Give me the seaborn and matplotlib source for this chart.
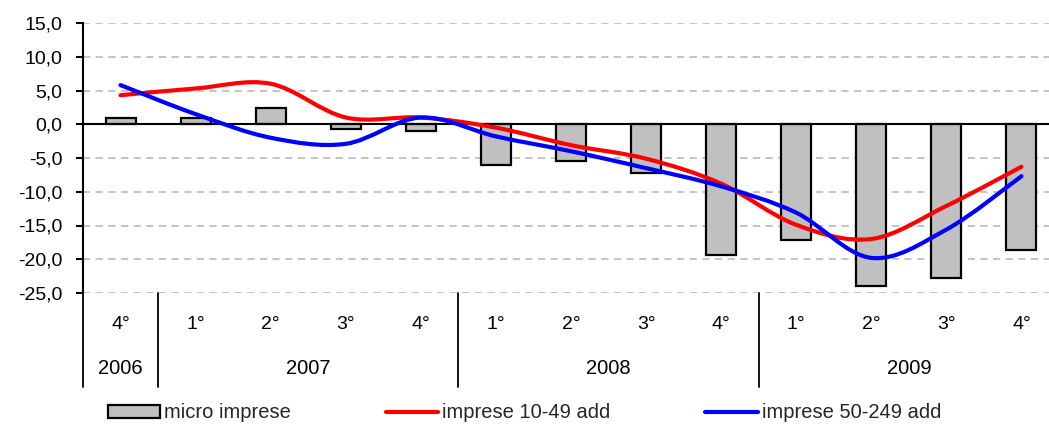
import numpy as np
import pandas as pd
import matplotlib
matplotlib.use("Agg")
import matplotlib.pyplot as plt
import seaborn as sns
from matplotlib.path import Path
from matplotlib.patches import PathPatch, Patch
from matplotlib.lines import Line2D
from matplotlib.ticker import FuncFormatter
import matplotlib.transforms as mtransforms

quarters = ["4°", "1°", "2°", "3°", "4°", "1°", "2°", "3°", "4°", "1°", "2°", "3°", "4°"]
years = ["2006", "2007", "2008", "2009"]
year_spans = [(0, 0), (1, 4), (5, 8), (9, 12)]
micro = [0.9, 0.9, 2.4, -0.7, -1.0, -6.0, -5.4, -7.2, -19.3, -17.2, -24.0, -22.8, -18.7]
imp_10_49 = [4.3, 5.3, 6.0, 1.0, 1.0, -0.5, -3.1, -5.1, -8.8, -14.9, -17.0, -12.1, -6.3]
imp_50_249 = [5.8, 1.5, -2.0, -2.9, 1.0, -1.8, -4.0, -6.5, -9.2, -13.1, -19.8, -15.6, -7.7]
yticks = [15, 10, 5, 0, -5, -10, -15, -20, -25]

sns.set_theme(style="white")
plt.rcParams["font.family"] = ["Liberation Sans", "DejaVu Sans"]

fig = plt.figure(figsize=(10.49, 4.25), dpi=100)
ax = fig.add_axes([83 / 1049, 1 - 293 / 425, 976 / 1049, 270 / 425])

idx = list(range(len(quarters)))
df = pd.DataFrame({"pos": idx, "val": micro})
sns.barplot(data=df, x="pos", y="val", ax=ax, color="#c0c0c0", width=0.4,
            edgecolor="black", linewidth=1.6, saturation=1, native_scale=True, zorder=3)


def smooth_path(xs, ys):
    pts = np.column_stack([xs, ys]).astype(float)
    n = len(pts)
    verts = [pts[0]]
    codes = [Path.MOVETO]
    for i in range(n - 1):
        p0 = pts[max(i - 1, 0)]
        p1 = pts[i]
        p2 = pts[i + 1]
        p3 = pts[min(i + 2, n - 1)]
        c1 = p1 + (p2 - p0) / 6.0
        c2 = p2 - (p3 - p1) / 6.0
        verts += [c1, c2, p2]
        codes += [Path.CURVE4] * 3
    return Path(verts, codes)


for vals, col in [(imp_10_49, "#ff0000"), (imp_50_249, "#0000ff")]:
    patch = PathPatch(smooth_path(idx, vals), facecolor="none", edgecolor=col,
                      linewidth=3, capstyle="round", zorder=5, transform=ax.transData)
    ax.add_patch(patch)

ax.set_xlim(-0.5, 12.5)
ax.set_ylim(-25, 15)
ax.set_yticks(yticks)
ax.yaxis.set_major_formatter(FuncFormatter(lambda v, p: f"{v:.1f}".replace(".", ",")))
ax.tick_params(axis="y", which="major", length=5, width=1.5, color="black",
               labelsize=14, left=True, pad=10, labelcolor="black")
ax.set_xticks([])
ax.set_xlabel("")
ax.set_ylabel("")

for y in yticks:
    if y != 0:
        ax.axhline(y, color="#bfbfbf", linestyle=(0, (4, 3)), linewidth=1.3, zorder=1)
ax.axhline(0, color="black", linewidth=1.5, zorder=4)

for s in ["top", "right", "bottom"]:
    ax.spines[s].set_visible(False)
ax.spines["left"].set_color("black")
ax.spines["left"].set_linewidth(1.5)

trans = mtransforms.blended_transform_factory(ax.transData, ax.transAxes)
for i, q in enumerate(quarters):
    ax.text(i, -0.115, q, transform=trans, ha="center", va="center", fontsize=14, color="black")
for yr, (a, b) in zip(years, year_spans):
    ax.text((a + b) / 2, -0.278, yr, transform=trans, ha="center", va="center", fontsize=14.5, color="black")
for xs in [-0.5, 0.5, 4.5, 8.5]:
    ax.plot([xs, xs], [0, -0.348], transform=trans, color="black", linewidth=1.3, clip_on=False)

handles = [
    Patch(facecolor="#c0c0c0", edgecolor="black", linewidth=1.6),
    Line2D([0], [0], color="#ff0000", linewidth=3),
    Line2D([0], [0], color="#0000ff", linewidth=3),
]
labels = ["micro imprese", "imprese 10-49 add", "imprese 50-249 add"]
fig.legend(handles, labels, loc="center left", bbox_to_anchor=(108 / 1049, 1 - 413 / 425), ncol=3,
           frameon=False, fontsize=14.5, handlelength=2.6, handleheight=0.65,
           handletextpad=0.2, columnspacing=4.7, borderpad=0, borderaxespad=0)

fig.savefig("out.png", dpi=100)
